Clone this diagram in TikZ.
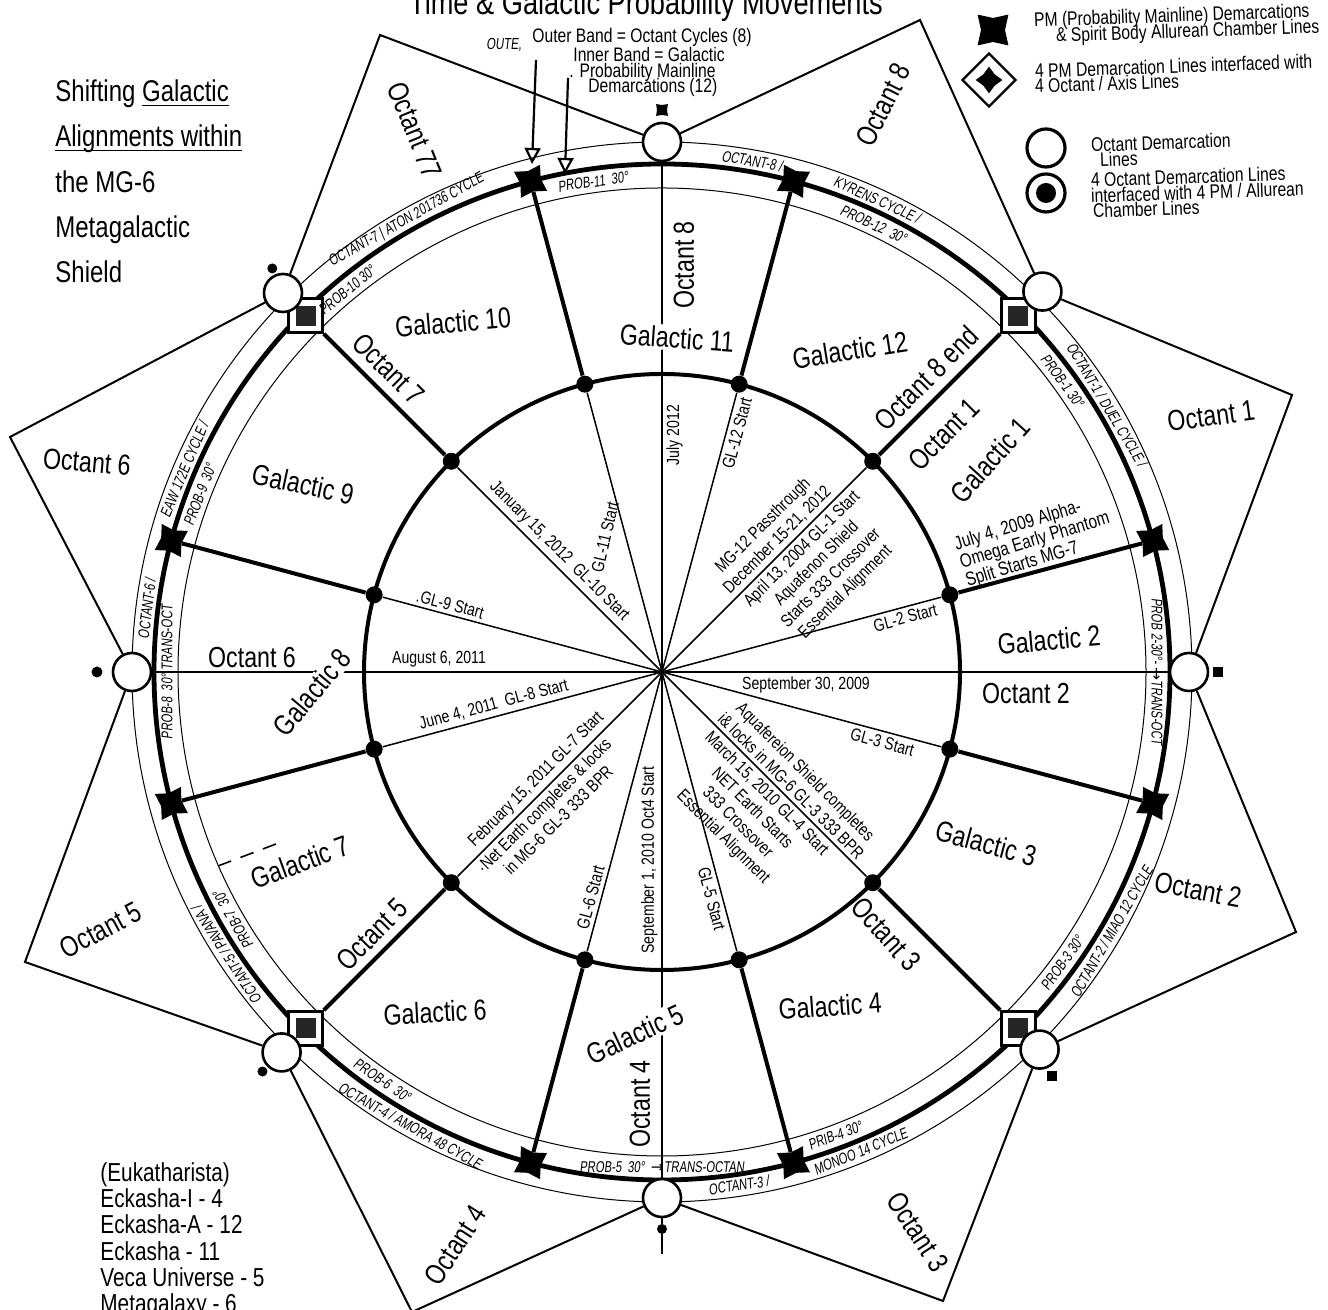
\documentclass[tikz,border=0pt]{standalone}
\usepackage{fontspec}
\setmainfont{Liberation Sans}[FakeStretch=0.8]
\newfontfamily\hand{Liberation Sans}[FakeStretch=0.72,FakeSlant=0.12]
\newfontfamily\djv{DejaVu Sans}
\usetikzlibrary{calc,shapes.geometric,arrows.meta,backgrounds}
\newcommand\myul[1]{\setbox0\hbox{#1}\rlap{\rule[-2.2pt]{\wd0}{0.7pt}}#1}
\tikzset{
  bigl/.style={font=\fontsize{14.5}{16}\selectfont, inner sep=1pt},
  datel/.style={font=\fontsize{8.8}{10.2}\selectfont, inner sep=2pt, align=center},
  legl/.style={font=\fontsize{9.8}{11}\selectfont, anchor=base west, inner sep=0pt, rotate=2},
  annl/.style={font=\fontsize{9.8}{11}\selectfont, anchor=base west, inner sep=0pt},
  lefttl/.style={font=\fontsize{15}{16}\selectfont, anchor=base west, inner sep=0pt},
  listl/.style={font=\fontsize{13}{14}\selectfont, anchor=base west, inner sep=0pt},
  handl/.style={font=\hand\fontsize{7.8}{8}\selectfont, inner sep=0pt},
  thinray/.style={line width=0.75pt},
  thickray/.style={line width=2pt},
  starline/.style={line width=1pt},
  gdot/.style={circle, fill=black, minimum size=8.5pt, inner sep=0pt},
  pmstar/.style={star, star points=4, star point ratio=0.55, fill=black, minimum size=10.5pt, inner sep=0pt},
  pmsq/.style={rectangle, draw, fill=white, line width=1.2pt, minimum size=17pt, inner sep=0pt},
  pmsqin/.style={rectangle, fill=black!85, minimum size=10pt, inner sep=0pt},
  ocirc/.style={circle, draw, fill=white, line width=1.3pt, minimum size=19pt, inner sep=0pt},
  smk/.style={fill=black, inner sep=0pt, minimum size=5pt},
}
\begin{document}
\begin{tikzpicture}[x=0.5pt,y=0.5pt]
\useasboundingbox (0,0) rectangle (1328,1310);
\clip (0,0) rectangle (1328,1310);
\coordinate (C) at (662,638);
% outer star vertices
\coordinate (V1) at (920,1290);
\coordinate (V2) at (1292,915);
\coordinate (V3) at (1296,378);
\coordinate (V4) at (943,9);
\coordinate (V5) at (412,-2);
\coordinate (V6) at (25,348);
\coordinate (V7) at (10,873);
\coordinate (V8) at (380,1275);

% galactic dots on inner circle
\foreach \k in {0,...,11} {
  \pgfmathsetmacro\a{15+30*\k}
  \node[gdot] (d\k) at ($(C)+(\a:298)$) {};
}
% PM markers on ring
\foreach \k in {0,2,3,5,6,8,9,11} {
  \pgfmathsetmacro\a{15+30*\k}
  \node[pmstar, shape border rotate=\a] (p\k) at ($(C)+(\a:508)$) {};
}
\foreach \k in {1,4,7,10} {
  \pgfmathsetmacro\a{15+30*\k}
  \node[pmsq] (p\k) at ($(C)+(\a:504)$) {};
  \node[pmsqin] (pi\k) at (p\k) {};
}
% octant demarcation circles
\node[ocirc] (oR)  at ($(C)+(0:527)$) {};
\node[ocirc] (oTR) at ($(C)+(45:538)$) {};
\node[ocirc] (oT)  at ($(C)+(90:530)$) {};
\node[ocirc] (oTL) at ($(C)+(135:536)$) {};
\node[ocirc] (oL)  at ($(C)+(180:530)$) {};
\node[ocirc] (oBL) at ($(C)+(225:538)$) {};
\node[ocirc] (oB)  at ($(C)+(270:526)$) {};
\node[ocirc] (oBR) at ($(C)+(315:534)$) {};
% small marks outside circles
\node[star, star points=4, star point ratio=0.6, fill=black, minimum size=5pt, inner sep=0pt] (mT) at ($(C)+(90:562)$) {};
\node[smk, rectangle] (mR) at ($(C)+(0:556)$) {};
\node[smk, circle] (mB) at ($(C)+(270:557)$) {};
\coordinate (mBend) at ($(C)+(270:582)$);
\node[smk, circle, minimum size=5.5pt] (mL) at ($(C)+(180:565)$) {};
\node[smk, circle] (mBL) at ($(C)+(225:565)$) {};
\node[smk, rectangle] (mBR) at ($(C)+(314:562)$) {};
\node[smk, circle] (mTL) at ($(C)+(134:561)$) {};

\begin{scope}[on background layer]
  \fill[white] (0,0) rectangle (1328,1310);
  \draw[starline] (oT) -- (V1) -- (oTR);
  \draw[starline] (oTR) -- (V2) -- (oR);
  \draw[starline] (oR) -- (V3) -- (oBR);
  \draw[starline] (oBR) -- (V4) -- (oB);
  \draw[starline] (oB) -- (V5) -- (oBL);
  \draw[starline] (oBL) -- (V6) -- (oL);
  \draw[starline] (oL) -- (V7) -- (oTL);
  \draw[starline] (oTL) -- (V8) -- (oT);
  \draw[line width=0.5pt] (C) circle (530);
  \draw[line width=0.5pt] (C) circle (484);
  \draw[line width=2.4pt] (C) circle (508);
  \draw[line width=2pt] (C) circle (298);
  \foreach \k in {0,...,11} { \draw[thinray] (C) -- (d\k); }
  \draw[thinray] (C) -- (oR);
  \draw[thinray] (C) -- (oT);
  \draw[thinray] (C) -- (oL);
  \draw[thinray] (C) -- (oB);
  \foreach \k in {0,...,11} { \draw[thickray] (d\k) -- (p\k); }
  \draw[line width=0.8pt] (oB) -- (mB) -- (mBend);
\end{scope}

% ---- region labels (inside ring)
\node[bigl, rotate=45] (o8end) at (926,932) {Octant 8 end};
\node[bigl, rotate=45] (o1in) at (944,876) {Octant 1};
\node[bigl, rotate=48] (g1) at (990,850) {Galactic 1};
\node[datel, rotate=17, align=left, inner sep=1pt, font=\fontsize{9.6}{9.6}\selectfont] (jul4) at (1035,769) {July 4, 2009 Alpha-\\Omega Early Phantom\\Split Starts MG-7};
\node[bigl, rotate=5] (g2) at (1049,670) {Galactic 2};
\node[bigl] (o2in) at (1026,616) {Octant 2};
\node[bigl, rotate=-15] (g3) at (986,467) {Galactic 3};
\node[bigl, rotate=-48] (o3in) at (886,376) {Octant 3};
\node[bigl, rotate=4] (g4) at (830,304) {Galactic 4};
\node[bigl, rotate=25, fill=white] (g5) at (635,276) {Galactic 5};
\node[bigl, rotate=90] (o4in) at (640,206) {Octant 4};
\node[bigl, rotate=3] (g6) at (435,298) {Galactic 6};
\node[bigl, rotate=45] (o5in) at (372,376) {Octant 5};
\node[bigl, rotate=20] (g7) at (300,448) {Galactic 7};
\coordinate (dsA) at (218,444);
\coordinate (dsB) at (276,466);
\draw[line width=0.8pt, dash pattern=on 7pt off 5pt] (dsA) -- (dsB);
\node[bigl, rotate=50, fill=white, inner sep=0.5pt] (g8) at (312,618) {Galactic 8};
\node[bigl] (o6in) at (252,652) {Octant 6};
\node[bigl, rotate=-12] (g9) at (303,826) {Galactic 9};
\node[bigl, rotate=-45] (o7in) at (389,941) {Octant 7};
\node[bigl, rotate=5] (g10) at (453,988) {Galactic 10};
\node[bigl, rotate=-4, fill=white] (g11) at (677,972) {Galactic 11};
\node[bigl, rotate=90] (o8in) at (684,1045) {Octant 8};
\node[bigl, rotate=9] (g12) at (850,960) {Galactic 12};

% ---- outer octant labels
\node[bigl, rotate=-68] (oo77) at (415,1180) {Octant 77};
\node[bigl, rotate=63] (oo8) at (883,1205) {Octant 8};
\node[bigl, rotate=8] (oo1) at (1211,894) {Octant 1};
\node[bigl, rotate=-11] (oo2) at (1198,420) {Octant 2};
\node[bigl, rotate=-57] (oo3) at (918,78) {Octant 3};
\node[bigl, rotate=57] (oo4) at (455,65) {Octant 4};
\node[bigl, rotate=28] (oo5) at (101,380) {Octant 5};
\node[bigl, rotate=-5] (oo6) at (87,848) {Octant 6};

% ---- radial date texts
\node[datel, rotate=-15, anchor=south] (t165) at ($(C)+(165:222)$) {.GL-9 Start};
\node[datel, anchor=south] (t180) at ($(C)+(180:223)$) {August 6, 2011};
\node[datel, rotate=15, anchor=south] (t195) at ($(C)+(195:171)$) {June 4, 2011 \ GL-8 Start};
\node[datel, rotate=45, anchor=south] (t225a) at ($(C)+(225:165)$) {February 15, 2011 GL-7 Start};
\node[datel, rotate=45, anchor=north] (t225b) at ($(C)+(225:178)$) {·Net Earth completes \& locks\\in MG-6 GL-3 333 BPR};
\node[datel, rotate=75, anchor=south] (t255) at ($(C)+(255:236)$) {GL-6 Start};
\node[datel, rotate=90, anchor=south] (t270) at ($(C)+(270:188)$) {September 1, 2010 Oct4 Start};
\node[datel, rotate=-75, anchor=north] (t285) at ($(C)+(285:232)$) {GL-5 Start};
\node[datel, rotate=-45, anchor=south] (t315a) at ($(C)+(315:172)$) {Aquafereion Shield completes\\i\& locks in MG-6 GL-3 333 BPR};
\node[datel, rotate=-45, anchor=north] (t315b) at ($(C)+(315:160)$) {March 15, 2010 GL-4 Start\\NET Earth Starts\\333 Crossover\\Essential Alignment};
\node[datel, rotate=-15, anchor=north] (t345) at ($(C)+(345:231)$) {GL-3 Start};
\node[datel, anchor=north] (t0) at ($(C)+(0:144)$) {September 30, 2009};
\node[datel, rotate=15, anchor=north] (t15) at ($(C)+(15:249)$) {GL-2 Start};
\node[datel, rotate=45, anchor=south] (t45a) at ($(C)+(45:175)$) {MG-12 Passthrough\\December 15-21, 2012};
\node[datel, rotate=45, anchor=north] (t45b) at ($(C)+(45:186)$) {April 13, 2004 GL-1 Start\\Aquafenon Shield\\Starts 333 Crossover\\Essential Alignment};
\node[datel, rotate=75, anchor=north] (t75) at ($(C)+(75:250)$) {GL-12 Start};
\node[datel, rotate=90, anchor=north] (t90) at ($(C)+(90:237)$) {July 2012};
\node[datel, rotate=77] (t105) at (605,773) {GL-11 Start};
\node[datel, rotate=-45, anchor=south] (t135) at ($(C)+(135:158)$) {January 15, 2012 \ GL-10 Start};

% ---- handwritten band texts (outer band)
\node[handl, rotate=29.5] (b1) at ($(C)+(119.5:519)$) {OCTANT-7 | ATON 201736 CYCLE};
\node[handl, rotate=-10] (b2) at ($(C)+(80:519)$) {OCTANT-8 /};
\node[handl, rotate=-24.5] (b3) at ($(C)+(65.5:519)$) {KYRENS CYCLE /};
\node[handl, rotate=-59] (b4) at ($(C)+(31:519)$) {OCTANT-1 / DUEL CYCLE /};
\node[handl, rotate=60] (b5) at ($(C)+(-30:519)$) {OCTANT-2 / MIAO 12 CYCLE};
\node[handl, rotate=22.5] (b6) at ($(C)+(-67.5:519)$) {MONOO 14 CYCLE};
\node[handl, rotate=8.5] (b7) at ($(C)+(-81.5:519)$) {OCTANT-3 /};
\node[handl, rotate=-29] (b8) at ($(C)+(-119:519)$) {OCTANT-4 / AMORA 48 CYCLE};
\node[handl, rotate=123] (b9) at ($(C)+(-147:519)$) {OCTANT-5 / PAVANA /};
\node[handl, rotate=83] (b10) at ($(C)+(173:519)$) {OCTANT-6 /};
\node[handl, rotate=67] (b11) at ($(C)+(157:519)$) {EAW 172E CYCLE /};
% inner band
\node[handl, rotate=39.5] (c1) at ($(C)+(129.5:495)$) {PROB-10 30°};
\node[handl, rotate=8] (c2) at ($(C)+(98:495)$) {PROB-11 \ 30°};
\node[handl, rotate=-25.3] (c3) at ($(C)+(64.7:495)$) {PROB-12 \ 30°};
\node[handl, rotate=-54] (c4) at ($(C)+(36:495)$) {PROB-1 30°};
\node[handl, rotate=-90] (c5) at ($(C)+(0:495)$) {PROB 2-30°- {\djv →}TRANS-OCT};
\node[handl, rotate=54] (c6) at ($(C)+(-36:495)$) {PROB-3 30°};
\node[handl, rotate=20.5] (c7) at ($(C)+(-69.5:495)$) {PRIB-4 30°};
\node[handl, rotate=0] (c8) at ($(C)+(-90:495)$) {PROB-5 \ 30° \ {\djv →}TRANS-OCTAN};
\node[handl, rotate=-34.4] (c9) at ($(C)+(-124.4:495)$) {PROB-6 \ 30°};
\node[handl, rotate=120] (c10) at ($(C)+(-150:495)$) {PROB-7 \ 30°};
\node[handl, rotate=90] (c11) at ($(C)+(180:495)$) {PROB-8 \ 30°·TRANS-OCT};
\node[handl, rotate=69] (c12) at ($(C)+(159:495)$) {PROB-9 \ 30°};

% ---- title
\node[font=\fontsize{17}{18}\selectfont, anchor=base, inner sep=0pt] (title) at (646,1295) {Time \& Galactic Probability Movements};

% ---- band annotation with arrows
\node[handl, anchor=base west, font=\hand\fontsize{8}{9}\selectfont] (oute) at (486,1260) {OUTE,};
\node[annl] (an1) at (532,1267) {Outer Band = Octant Cycles (8)};
\node[annl] (an2) at (573,1248) {Inner Band = Galactic};
\node[annl] (an3) at (569,1232) {. Probability Mainline};
\node[annl] (an4) at (588,1217) {Demarcations (12)};
\coordinate (a1s) at (536,1250);
\coordinate (a1e) at (532,1146);
\coordinate (a2s) at (568,1232);
\coordinate (a2e) at (565,1136);
\draw[line width=1.1pt, -{Triangle[open, length=8pt, width=8pt]}] (a1s) -- (a1e);
\draw[line width=1.1pt, -{Triangle[open, length=8pt, width=8pt]}] (a2s) -- (a2e);

% ---- legend
\node[pmstar, minimum size=12pt] (lg1) at (993,1280) {};
\node[diamond, draw, line width=1.2pt, minimum size=27pt, inner sep=0pt] (lg2) at (989,1230) {};
\node[star, star points=4, star point ratio=0.6, fill=black, minimum size=8pt, inner sep=0pt, shape border rotate=45] (lg2in) at (lg2) {};
\node[ocirc, line width=1.6pt] (lg3) at (1046,1162) {};
\node[ocirc, line width=1.6pt] (lg4) at (1046,1117) {};
\node[circle, fill=black, minimum size=10pt, inner sep=0pt] (lg4in) at (lg4) {};
\node[legl] (lt1) at (1034,1283) {PM (Probability Mainline) Demarcations};
\node[legl] (lt2) at (1056,1268) {\& Spirit Body Allurean Chamber Lines};
\node[legl] (lt3) at (1035,1232) {4 PM Demarcation Lines interfaced with};
\node[legl] (lt4) at (1035,1217) {4 Octant / Axis Lines};
\node[legl] (lt5) at (1091,1158) {Octant Demarcation};
\node[legl] (lt6) at (1100,1143) {Lines};
\node[legl] (lt7) at (1091,1123) {4 Octant Demarcation Lines};
\node[legl] (lt8) at (1091,1107) {interfaced with 4 PM / Allurean};
\node[legl] (lt9) at (1093,1092) {Chamber Lines};

% ---- left title block
\node[lefttl] (lb1) at (55,1208) {Shifting \myul{Galactic}};
\node[lefttl] (lb2) at (55,1163) {\myul{Alignments within}};
\node[lefttl] (lb3) at (55,1117) {the MG-6};
\node[lefttl] (lb4) at (55,1072) {Metagalactic};
\node[lefttl] (lb5) at (55,1027) {Shield};

% ---- bottom-left list
\node[listl] (ll1) at (100,128) {(Eukatharista)};
\node[listl] (ll2) at (100,102) {Eckasha-I - 4};
\node[listl] (ll3) at (100,76) {Eckasha-A - 12};
\node[listl] (ll4) at (100,49) {Eckasha - 11};
\node[listl] (ll5) at (100,23) {Veca Universe - 5};
\node[listl] (ll6) at (100,-3) {Metagalaxy - 6};
\end{tikzpicture}
\end{document}
